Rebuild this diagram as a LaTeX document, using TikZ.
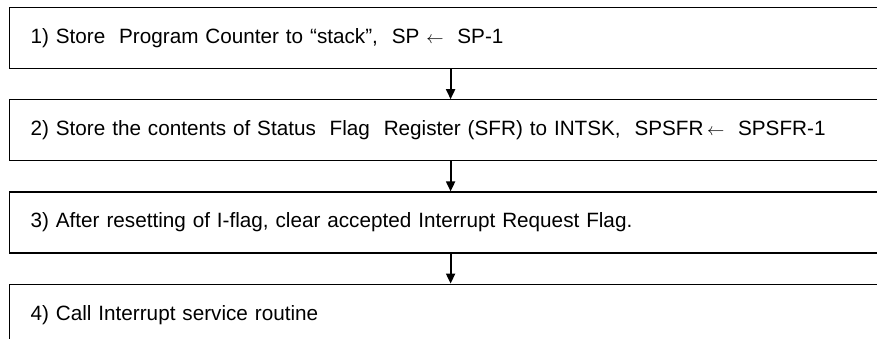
\documentclass[tikz,border=0pt]{standalone}
\usepackage{fontspec}
\setmainfont{Liberation Sans}
\usetikzlibrary{positioning,arrows.meta}
\newcommand{\larr}{{\fontsize{18}{18}\selectfont$\leftarrow$}}

\begin{document}
\begin{tikzpicture}[x=1pt, y=1pt, node distance=30pt,
  stepbox/.style={draw, rectangle, line width=1.2pt, minimum height=61pt,
    text width=840pt, inner xsep=21pt, align=left,
    font=\fontsize{20.7}{25}\selectfont},
  flow/.style={-{Triangle[length=10pt,width=9pt]}, line width=1.8pt}]
\useasboundingbox (0,0) rectangle (877,-338);
\clip (0,0) rectangle (877,-338);
% the four steps
\node[stepbox, anchor=north west] (pcstack) at (9,-7)
  {1) Store\ \ Program Counter to “stack”,\ \ SP \larr\ \ SP-1};
\node[stepbox, below=of pcstack] (sfrstack)
  {2) Store the contents of Status\ \ Flag\ \ Register (SFR) to INTSK,\ \ SPSFR\,\larr\ \ SPSFR-1};
\node[stepbox, below=of sfrstack] (clrflag)
  {3) After resetting of I-flag, clear accepted Interrupt Request Flag.};
\node[stepbox, below=of clrflag] (callisr)
  {4) Call Interrupt service routine};
% connectors
\draw[flow] (pcstack) -- (sfrstack);
\draw[flow] (sfrstack) -- (clrflag);
\draw[flow] (clrflag) -- (callisr);
\end{tikzpicture}
\end{document}
